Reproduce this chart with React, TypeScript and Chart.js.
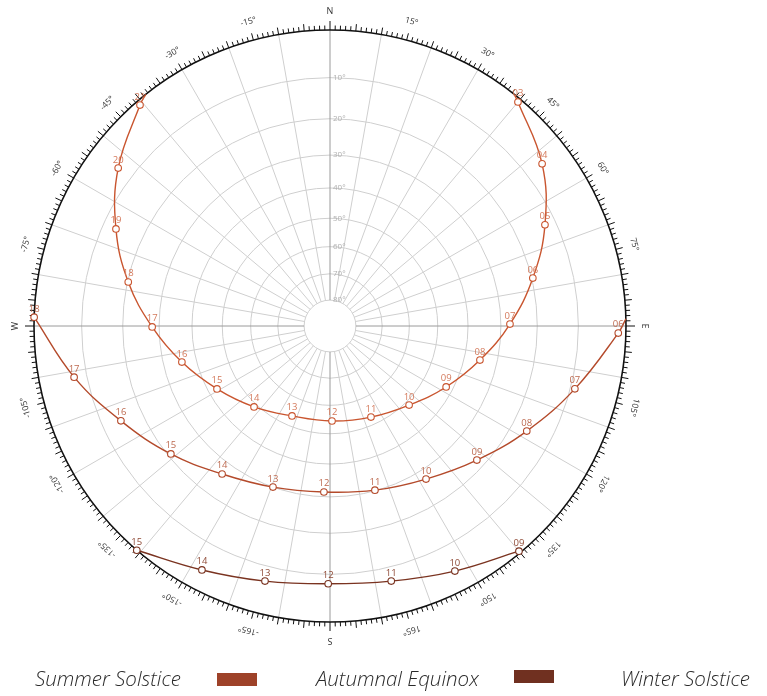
import React, { useEffect, useRef } from "react";
import { Chart, registerables } from "chart.js";

Chart.register(...registerables);

// ---- Data ----
const SERIES_NAMES = ["Summer Solstice", "Autumnal Equinox", "Winter Solstice"];

const SUMMER_HOURS = ["", "03", "04", "05", "06", "07", "08", "09", "10", "11", "12", "13", "14", "15", "16", "17", "18", "19", "20", "21", ""];
const SUMMER_AZ = [38.5, 40.0, 52.6, 64.8, 76.7, 89.4, 102.8, 117.7, 135.0, 155.8, 178.8, 202.9, 223.2, 240.9, 256.3, 269.7, 282.3, 294.4, 306.7, 319.3, 321.5];
const SUMMER_ALT = [0, 0.7, 5.9, 12.5, 19.7, 27.4, 35.1, 42.2, 48.6, 52.7, 54.4, 53.5, 48.9, 42.8, 35.5, 28.0, 20.2, 13.1, 6.5, 0.9, 0];

const EQUINOX_HOURS = ["", "06", "07", "08", "09", "10", "11", "12", "13", "14", "15", "16", "17", "18"];
const EQUINOX_AZ = [88.6, 91.4, 104.4, 118.1, 132.4, 147.9, 164.7, 182.1, 199.5, 216.1, 231.2, 245.6, 258.7, 271.7];
const EQUINOX_ALT = [0, 1.5, 9.0, 16.0, 22.2, 27.2, 30.2, 31.4, 30.0, 26.5, 20.8, 14.4, 7.2, 0.0];

const WINTER_HOURS = ["09", "10", "11", "12", "13", "14", "15"];
const WINTER_AZ = [140.0, 153.0, 166.5, 180.4, 194.3, 207.7, 220.75];
const WINTER_ALT = [0.4, 4.2, 6.9, 7.9, 6.7, 4.1, 0.0];

const ALT_RINGS = [10, 20, 30, 40, 50, 60, 70, 80];
const COMPASS_ANGLES = [0, 15, 30, 45, 60, 75, 90, 105, 120, 135, 150, 165, 180, -165, -150, -135, -120, -105, -90, -75, -60, -45, -30, -15];
const COMPASS_LABELS = ["N", "15°", "30°", "45°", "60°", "75°", "E", "105°", "120°", "135°", "150°", "165°", "S", "-165°", "-150°", "-135°", "-120°", "-105°", "W", "-75°", "-60°", "-45°", "-30°", "-15°"];

// ---- Styles ----
const LINE_COLORS = ["#c9552f", "#b44a2b", "#7a3320"];
const LABEL_COLORS = ["#d47a5c", "#bd6a50", "#8f4a36"];
const LEGEND_COLORS = ["#9e4229", "#703020"];

const deg = Math.PI / 180;
const proj = (alt: number) => Math.tan(((90 - alt) / 2) * deg);

function toPoints(az: number[], alt: number[]) {
  return az.map((a, i) => {
    const r = proj(alt[i]);
    return { x: r * Math.sin(a * deg), y: r * Math.cos(a * deg) };
  });
}

const sunPlugin = {
  id: "sunGrid",
  beforeDatasetsDraw(chart: any) {
    const { ctx, scales } = chart;
    const cx = scales.x.getPixelForValue(0);
    const cy = scales.y.getPixelForValue(0);
    const R = scales.x.getPixelForValue(1) - cx;
    ctx.save();
    // altitude rings
    ctx.lineWidth = 1;
    ctx.strokeStyle = "#cfcfcf";
    ALT_RINGS.forEach((a) => {
      ctx.beginPath();
      ctx.arc(cx, cy, proj(a) * R, 0, Math.PI * 2);
      ctx.stroke();
    });
    // radial lines
    const r0 = proj(80) * R;
    for (let az = 0; az < 360; az += 10) {
      const s = Math.sin(az * deg);
      const c = Math.cos(az * deg);
      ctx.strokeStyle = az % 90 === 0 ? "#9a9a9a" : "#cfcfcf";
      ctx.beginPath();
      ctx.moveTo(cx + r0 * s, cy - r0 * c);
      ctx.lineTo(cx + R * s, cy - R * c);
      ctx.stroke();
    }
    // altitude labels
    ctx.fillStyle = "#b0b0b0";
    ctx.font = "8px 'Open Sans'";
    ctx.textAlign = "left";
    ctx.textBaseline = "middle";
    ALT_RINGS.forEach((a) => {
      ctx.fillText(a + "°", cx + 3, cy - proj(a) * R);
    });
    // outer ring
    ctx.strokeStyle = "#111";
    ctx.lineWidth = 1.6;
    ctx.beginPath();
    ctx.arc(cx, cy, R, 0, Math.PI * 2);
    ctx.stroke();
    // ticks
    ctx.lineWidth = 1;
    for (let d = 0; d < 360; d++) {
      const len = d % 90 === 0 ? 9 : d % 5 === 0 ? 7 : 4.5;
      const s = Math.sin(d * deg);
      const c = Math.cos(d * deg);
      ctx.beginPath();
      ctx.moveTo(cx + R * s, cy - R * c);
      ctx.lineTo(cx + (R + len) * s, cy - (R + len) * c);
      ctx.stroke();
    }
    // compass labels
    ctx.fillStyle = "#333";
    ctx.textAlign = "center";
    ctx.textBaseline = "middle";
    COMPASS_ANGLES.forEach((a, i) => {
      const rl = R + 19;
      const label = COMPASS_LABELS[i];
      ctx.save();
      ctx.translate(cx + rl * Math.sin(a * deg), cy - rl * Math.cos(a * deg));
      ctx.rotate(a * deg);
      ctx.font = label.length === 1 ? "9px 'Open Sans'" : "8.5px 'Open Sans'";
      ctx.fillText(label, 0, 0);
      ctx.restore();
    });
    ctx.restore();
  },
  afterDatasetsDraw(chart: any) {
    const { ctx } = chart;
    ctx.save();
    ctx.font = "9.5px 'Open Sans'";
    ctx.textAlign = "center";
    ctx.textBaseline = "bottom";
    chart.data.datasets.forEach((ds: any, di: number) => {
      const meta = chart.getDatasetMeta(di);
      ctx.fillStyle = LABEL_COLORS[di];
      meta.data.forEach((el: any, i: number) => {
        const lbl = ds.hours[i];
        if (!lbl) return;
        ctx.fillText(lbl, el.x, el.y - 3.5);
      });
    });
    ctx.restore();
  },
};

function makeDataset(idx: number, hours: string[], az: number[], alt: number[]) {
  return {
    label: SERIES_NAMES[idx],
    hours,
    data: toPoints(az, alt),
    showLine: true,
    tension: 0.4,
    borderColor: LINE_COLORS[idx],
    borderWidth: 1.4,
    pointRadius: hours.map((h) => (h ? 3.3 : 0)),
    pointBackgroundColor: "#ffffff",
    pointBorderColor: LINE_COLORS[idx],
    pointBorderWidth: 1.1,
    clip: false,
  };
}

export default function App() {
  const ref = useRef<HTMLCanvasElement>(null);
  useEffect(() => {
    if (!ref.current) return;
    const chart = new Chart(ref.current, {
      type: "scatter",
      data: {
        datasets: [
          makeDataset(0, SUMMER_HOURS, SUMMER_AZ, SUMMER_ALT),
          makeDataset(1, EQUINOX_HOURS, EQUINOX_AZ, EQUINOX_ALT),
          makeDataset(2, WINTER_HOURS, WINTER_AZ, WINTER_ALT),
        ] as any,
      },
      options: {
        animation: false,
        responsive: false,
        maintainAspectRatio: false,
        devicePixelRatio: 1,
        layout: { padding: { left: 34, top: 30, right: 141, bottom: 74 } },
        scales: {
          x: { type: "linear", min: -1, max: 1, display: false },
          y: { type: "linear", min: -1, max: 1, display: false },
        },
        plugins: { legend: { display: false }, tooltip: { enabled: false } },
      },
      plugins: [sunPlugin],
    });
    return () => chart.destroy();
  }, []);

  const textStyle: React.CSSProperties = {
    position: "absolute",
    top: 663,
    fontFamily: "'Open Sans', sans-serif",
    fontStyle: "italic",
    fontWeight: 300,
    fontSize: 20.5,
    color: "#2a2a2a",
    whiteSpace: "nowrap",
    lineHeight: "30px",
  };
  return (
    <div style={{ position: "fixed", left: 0, top: 0, width: 767, height: 696, background: "#fff" }}>
      <canvas ref={ref} width={767} height={696} style={{ position: "absolute", left: 0, top: 0 }} />
      <div style={{ ...textStyle, left: 35 }}>{SERIES_NAMES[0]}</div>
      <div style={{ position: "absolute", left: 217, top: 673, width: 40, height: 13, background: LEGEND_COLORS[0] }} />
      <div style={{ ...textStyle, left: 316 }}>{SERIES_NAMES[1]}</div>
      <div style={{ position: "absolute", left: 514, top: 670, width: 40, height: 13, background: LEGEND_COLORS[1] }} />
      <div style={{ ...textStyle, left: 621 }}>{SERIES_NAMES[2]}</div>
    </div>
  );
}
